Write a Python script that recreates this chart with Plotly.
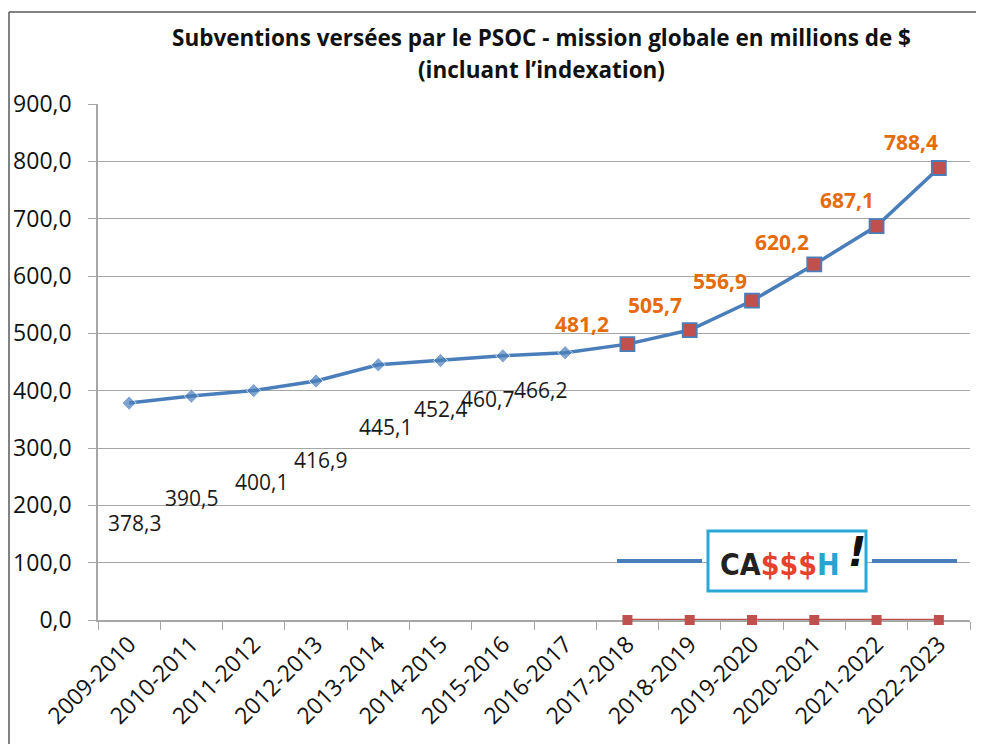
import plotly.graph_objects as go

categories = ["2009-2010", "2010-2011", "2011-2012", "2012-2013", "2013-2014",
              "2014-2015", "2015-2016", "2016-2017", "2017-2018", "2018-2019",
              "2019-2020", "2020-2021", "2021-2022", "2022-2023"]
subventions = [378.3, 390.5, 400.1, 416.9, 445.1, 452.4, 460.7, 466.2,
               481.2, 505.7, 556.9, 620.2, 687.1, 788.4]
label_text = ["378,3", "390,5", "400,1", "416,9", "445,1", "452,4", "460,7", "466,2",
              "481,2", "505,7", "556,9", "620,2", "687,1", "788,4"]
base_categories = categories[8:]
base_values = [0, 0, 0, 0, 0, 0]
y_ticks = [0, 100, 200, 300, 400, 500, 600, 700, 800, 900]
y_tick_text = ["0,0", "100,0", "200,0", "300,0", "400,0", "500,0", "600,0",
               "700,0", "800,0", "900,0"]

# style: label pixel offsets (dx, dy) relative to each point
label_shift = [(5, -120), (0, -102), (8, -91), (4, -79), (7, -62), (0, -48),
               (-15, -43), (-25, -37), (-45, 20), (-35, 25), (-32, 20),
               (-32, 22), (-30, 26), (-28, 26)]

BLUE = "#4a7ebb"
RED = "#c0504d"
ORANGE = "#e46c0a"
GRID = "#a6a6a6"
FONT = "Open Sans"

n_old = 8
diamond_sizes = [11] * n_old + [0] * (len(categories) - n_old)

fig = go.Figure()
fig.add_trace(go.Scatter(
    x=base_categories, y=base_values, mode="lines+markers",
    line=dict(color=RED, width=2.5),
    marker=dict(symbol="square", size=10, color=RED),
    showlegend=False, cliponaxis=False))
fig.add_trace(go.Scatter(
    x=categories, y=subventions, mode="lines+markers",
    line=dict(color=BLUE, width=3.5),
    marker=dict(symbol="diamond", size=diamond_sizes, color=BLUE),
    showlegend=False, cliponaxis=False))
fig.add_trace(go.Scatter(
    x=categories[n_old:], y=subventions[n_old:], mode="markers",
    marker=dict(symbol="square", size=14, color=RED, opacity=1,
                line=dict(color=BLUE, width=1.8)),
    showlegend=False, cliponaxis=False))

annotations = []
for i, (c, v, t) in enumerate(zip(categories, subventions, label_text)):
    dx, dy = label_shift[i]
    orange = i >= n_old
    annotations.append(dict(
        x=c, y=v, text=t, showarrow=False, xshift=dx, yshift=dy,
        xanchor="center", yanchor="middle",
        font=dict(family=FONT, size=21,
                  color=ORANGE if orange else "#1a1a1a",
                  weight="bold" if orange else "normal")))

# page offset of the body in the browser
OFF = 8
W, H = 984, 744
L, R, T, B = 90, 22, 96, 132
PW, PH = W - L - R, H - T - B


def px(xp):
    return (xp - OFF - L) / PW


def py(yp):
    return (H - B - (yp - OFF)) / PH


# title
annotations.append(dict(xref="paper", yref="paper", x=px(541), y=py(37),
                        xanchor="center", yanchor="middle",
                        text="<b>Subventions versées par le PSOC - mission globale en millions de $</b>",
                        showarrow=False, font=dict(family=FONT, size=22.5, color="#111")))
annotations.append(dict(xref="paper", yref="paper", x=px(541), y=py(69),
                        xanchor="center", yanchor="middle",
                        text="<b>(incluant l’indexation)</b>",
                        showarrow=False, font=dict(family=FONT, size=22.5, color="#111")))

# logo text
annotations.append(dict(xref="paper", yref="paper", x=px(780), y=py(564),
                        xanchor="center", yanchor="middle",
                        text="<b><span style='color:#222'>CA</span>"
                             "<span style='color:#e5412d'>$$$</span>"
                             "<span style='color:#29a3d4'>H</span></b>",
                        showarrow=False,
                        font=dict(family="DejaVu Sans Condensed, DejaVu Sans", size=30)))
annotations.append(dict(xref="paper", yref="paper", x=px(857), y=py(552),
                        xanchor="center", yanchor="middle",
                        text="<b><i>!</i></b>", showarrow=False,
                        font=dict(family="DejaVu Sans", size=40, color="#111")))

shapes = [
    # outer frame
    dict(type="line", xref="paper", yref="paper", x0=px(9), x1=px(990), y0=py(12), y1=py(12),
         line=dict(color="#595959", width=1.5)),
    dict(type="line", xref="paper", yref="paper", x0=px(9), x1=px(9), y0=py(12), y1=py(760),
         line=dict(color="#595959", width=1.5)),
    # legend-like lines
    dict(type="line", xref="paper", yref="paper", x0=px(617), x1=px(702), y0=py(561), y1=py(561),
         line=dict(color=BLUE, width=4)),
    dict(type="line", xref="paper", yref="paper", x0=px(872), x1=px(957), y0=py(561), y1=py(561),
         line=dict(color=BLUE, width=4)),
    # logo box
    dict(type="rect", xref="paper", yref="paper", x0=px(708), x1=px(866), y0=py(531), y1=py(591),
         line=dict(color="#29a8d8", width=3), fillcolor="white", layer="above"),
]

fig.update_layout(
    width=W, height=H,
    margin=dict(l=L, r=R, t=T, b=B, autoexpand=False),
    paper_bgcolor="white", plot_bgcolor="white",
    annotations=annotations, shapes=shapes,
    font=dict(family=FONT, color="#111"),
    xaxis=dict(type="category", categoryorder="array", categoryarray=categories,
               range=[-0.5, len(categories) - 0.5], automargin=False,
               tickson="boundaries", ticks="outside", ticklen=8, tickcolor=GRID,
               showline=True, linecolor=GRID, linewidth=1.5, showgrid=False,
               layer="below traces",
               tickangle=-45, tickfont=dict(family=FONT, size=23, color="#111")),
    yaxis=dict(range=[0, 900], tickvals=y_ticks, ticktext=y_tick_text, automargin=False,
               ticks="outside", ticklen=8, tickcolor=GRID, ticklabelstandoff=12,
               showline=True, linecolor=GRID, linewidth=1.5, layer="below traces",
               showgrid=True, gridcolor=GRID, gridwidth=1.2, zeroline=False,
               tickfont=dict(family=FONT, size=23, color="#111")),
)

fig.write_html("out.html")
